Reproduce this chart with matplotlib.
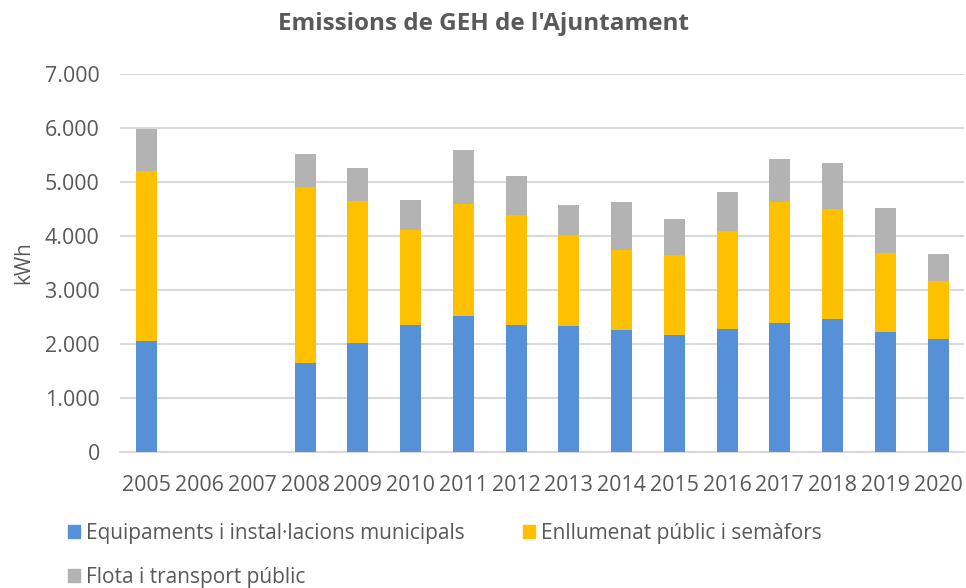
import numpy as np
import matplotlib
matplotlib.use('Agg')
import matplotlib.pyplot as plt
from matplotlib.patches import Patch
from matplotlib import ticker

# %% data
years = ['2005', '2006', '2007', '2008', '2009', '2010', '2011', '2012',
         '2013', '2014', '2015', '2016', '2017', '2018', '2019', '2020']
equipaments = [2060, np.nan, np.nan, 1650, 2020, 2360, 2520, 2360,
               2330, 2250, 2170, 2270, 2380, 2460, 2220, 2100]
enllumenat = [3140, np.nan, np.nan, 3250, 2620, 1760, 2070, 2020,
              1680, 1490, 1480, 1830, 2240, 2040, 1460, 1070]
flota = [780, np.nan, np.nan, 620, 620, 540, 1000, 730,
         560, 880, 660, 710, 810, 850, 840, 500]
labels = ['Equipaments i instal·lacions municipals',
          'Enllumenat públic i semàfors',
          'Flota i transport públic']
colors = ['#5690D6', '#FFC000', '#B3B3B3']

plt.rcParams['font.family'] = ['Open Sans', 'DejaVu Sans']
txt_color = '#595959'

# %% plot
fig = plt.figure(figsize=(9.66, 5.88), dpi=100)
ax = fig.add_axes([0.1247, 0.2313, 0.8737, 0.6429])

x = np.arange(len(years))
eq = np.array(equipaments, dtype=float)
en = np.array(enllumenat, dtype=float)
fl = np.array(flota, dtype=float)
w = 0.4
ax.bar(x, eq, width=w, color=colors[0], zorder=3)
ax.bar(x, en, width=w, bottom=eq, color=colors[1], zorder=3)
ax.bar(x, fl, width=w, bottom=eq + en, color=colors[2], zorder=3)

ax.set_xlim(-0.5, len(years) - 0.5)
ax.set_ylim(0, 7000)
ax.set_xticks(x)
ax.set_xticklabels(years)
ax.yaxis.set_major_locator(ticker.MultipleLocator(1000))
ax.yaxis.set_major_formatter(ticker.FuncFormatter(lambda v, p: f'{int(v):,}'.replace(',', '.')))
ax.grid(True, axis='y', color='#D9D9D9', linewidth=1.5, zorder=0)
for s in ['top', 'right', 'left']:
    ax.spines[s].set_visible(False)
ax.spines['bottom'].set_color('#D9D9D9')
ax.spines['bottom'].set_linewidth(1.5)
ax.tick_params(axis='both', length=0, labelsize=15.4, labelcolor=txt_color)
ax.tick_params(axis='y', pad=15)
ax.tick_params(axis='x', pad=16.5)

ax.set_ylabel('kWh', fontsize=15, color=txt_color, labelpad=8)
fig.text(0.5, 0.959, "Emissions de GEH de l'Ajuntament", ha='center', va='center',
         fontsize=17.5, fontweight='bold', color=txt_color)

# legend: row-major order like Excel (2 columns)
order = [0, 2, 1]
handles = [Patch(color=colors[i]) for i in order]
fig.legend(handles, [labels[i] for i in order], loc='upper left',
           bbox_to_anchor=(68 / 966, 1 - 523 / 588),
           ncol=2, frameon=False, fontsize=15, labelcolor=txt_color,
           borderpad=0, borderaxespad=0,
           handlelength=0.58, handleheight=0.58, handletextpad=0.29,
           columnspacing=2.79, labelspacing=1.08)

plt.savefig('out.png', dpi=100)
